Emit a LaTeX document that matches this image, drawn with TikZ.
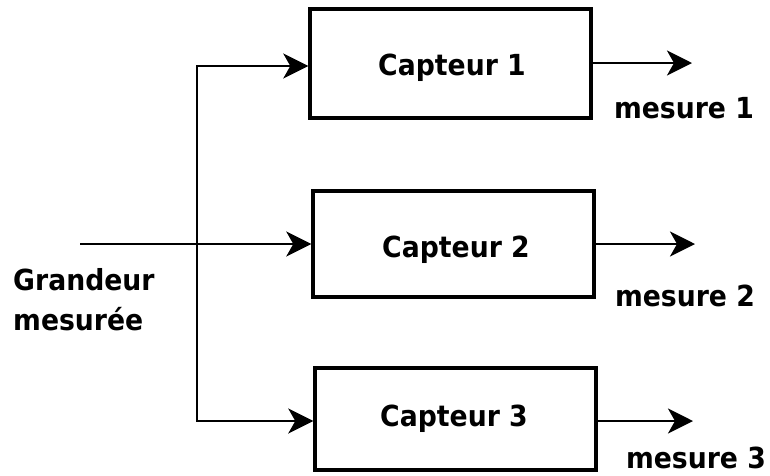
\documentclass[tikz,border=0pt]{standalone}
\usepackage{fontspec}
\setmainfont{DejaVu Sans}[FakeStretch=0.92]
\usetikzlibrary{arrows.meta}
\begin{document}
\begin{tikzpicture}[x=1pt,y=-1pt,
  every node/.style={font=\bfseries\fontsize{29}{40}\selectfont, inner sep=0pt},
  capteur/.style={draw, line width=3.4pt, minimum width=281pt, inner sep=0pt},
  txt/.style={anchor=base},
  flow/.style={line width=2.9pt, -{Stealth[length=25pt,width=25pt,inset=7pt]}}]
  \useasboundingbox (0,0) rectangle (770,475);

  % sensor blocks
  \node[capteur, minimum height=109pt] (b1) at (450.5,63.5) {};
  \node[capteur, minimum height=106pt] (b2) at (453.5,244) {};
  \node[capteur, minimum height=102pt] (b3) at (455.5,419) {};
  \node[txt] (t1) at (452,75) {Capteur 1};
  \node[txt] (t2) at (456,257) {Capteur 2};
  \node[txt] (t3) at (454,426) {Capteur 3};

  % input signal and its distribution to the three sensors
  \coordinate (in) at (80,244);
  \coordinate (split) at (197,244);
  \coordinate (top) at (197,66);
  \coordinate (bot) at (197,421);
  \draw[flow] (in) -- (b2.west);
  \draw[flow] (split) |- (top -| b1.west);
  \draw[flow] (split) |- (bot -| b3.west);

  % outputs
  \coordinate (o1) at (692,63);
  \coordinate (o2) at (695,244);
  \coordinate (o3) at (693,421);
  \draw[flow] (o1 -| b1.east) -- (o1);
  \draw[flow] (o2 -| b2.east) -- (o2);
  \draw[flow] (o3 -| b3.east) -- (o3);

  % labels
  \node[txt] (m1) at (684,118) {mesure 1};
  \node[txt] (m2) at (685,306) {mesure 2};
  \node[txt] (m3) at (696,468) {mesure 3};
  \node[anchor=base west] (g1) at (13,290) {Grandeur};
  \node[anchor=base west] (g2) at (13,330) {mesurée};
\end{tikzpicture}
\end{document}
